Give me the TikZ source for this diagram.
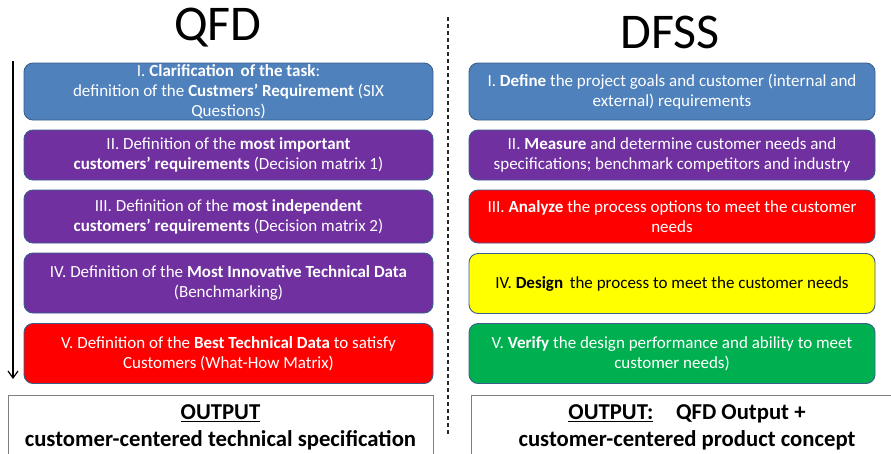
\documentclass[tikz,border=0pt]{standalone}
\usepackage{fontspec}
\setmainfont{Carlito}
\usetikzlibrary{arrows.meta}
\definecolor{cblue}{HTML}{4F81BD}
\definecolor{cpurple}{HTML}{7030A0}
\definecolor{cred}{HTML}{FF0000}
\definecolor{cyellow}{HTML}{FFFF00}
\definecolor{cgreen}{HTML}{00B050}
\definecolor{cborder}{HTML}{3A5F8B}
\definecolor{cgray}{HTML}{7F7F7F}
\tikzset{
  stepbox/.style={draw=cborder, line width=0.9pt, rounded corners=9pt, inner sep=0pt,
    align=center, text=white, font=\fontsize{17}{20}\selectfont},
  lbox/.style={stepbox, minimum width=409pt},
  rbox/.style={stepbox, minimum width=406pt},
  outbox/.style={draw=cgray, line width=0.8pt, inner sep=0pt, align=center,
    font=\fontsize{22.7}{27}\selectfont\bfseries, minimum height=64pt},
  title/.style={font=\fontsize{50}{50}\selectfont, inner sep=0pt},
}
\begin{document}
\begin{tikzpicture}[x=1pt,y=-1pt]
\useasboundingbox (0,0) rectangle (891,453);
\fill[white] (0,0) rectangle (891,453);
% titles
\node[title] (tq) at (218,28) {QFD};
\node[title] (td) at (670,32) {DFSS};
% separator
\coordinate (s1) at (448,17);
\coordinate (s2) at (448,437);
\draw[line width=1.2pt, dash pattern=on 4pt off 3pt, black!85] (s1) -- (s2);
% arrow
\coordinate (a1) at (13,61);
\coordinate (a2) at (13,379);
\draw[line width=1.4pt, -{Straight Barb[length=7pt,width=10pt,line width=1.2pt]}] (a1) -- (a2);
% left boxes
\node[lbox, fill=cblue, minimum height=57pt] (l1) at (228.5,91.5)
  {I. \textbf{Clarification\, of the task}:\\definition of the \textbf{Custmers’ Requirement} (SIX\\Questions)};
\node[lbox, fill=cpurple, minimum height=50pt] (l2) at (228.5,155)
  {II. Definition of the \textbf{most important}\\\textbf{customers’ requirements} (Decision matrix 1)};
\node[lbox, fill=cpurple, minimum height=53pt] (l3) at (228.5,216.5)
  {III. Definition of the \textbf{most independent}\\\textbf{customers’ requirements} (Decision matrix 2)};
\node[lbox, fill=cpurple, minimum height=60pt] (l4) at (228.5,283)
  {IV. Definition of the \textbf{Most Innovative Technical Data}\\(Benchmarking)};
\node[lbox, fill=cred, minimum height=60pt] (l5) at (228.5,353.5)
  {V. Definition of the \textbf{Best Technical Data} to satisfy\\Customers (What-How Matrix)};
% right boxes
\node[rbox, fill=cblue, minimum height=57pt] (r1) at (672,91.5)
  {I. \textbf{Define} the project goals and customer (internal and\\external) requirements};
\node[rbox, fill=cpurple, minimum height=50pt] (r2) at (672,155)
  {II. \textbf{Measure} and determine customer needs and\\specifications; benchmark competitors and industry};
\node[rbox, fill=cred, minimum height=53pt] (r3) at (672,216.5)
  {III. \textbf{Analyze} the process options to meet the customer\\needs};
\node[rbox, fill=cyellow, text=black, minimum height=60pt] (r4) at (672,283.5)
  {IV. \textbf{Design}\, the process to meet the customer needs};
\node[rbox, fill=cgreen, minimum height=60pt] (r5) at (672,353.5)
  {V. \textbf{Verify} the design performance and ability to meet\\customer needs)};
% outputs
\node[outbox, minimum width=425pt] (o1) at (220.5,427)
  {\underline{OUTPUT}\\customer-centered technical specification};
\node[outbox, minimum width=432pt] (o2) at (687,427)
  {\underline{OUTPUT:}\quad QFD Output +\\customer-centered product concept};
\end{tikzpicture}
\end{document}
